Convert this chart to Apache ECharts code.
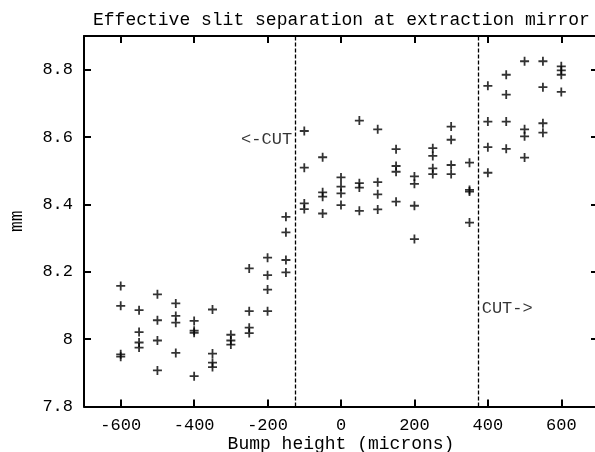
<!DOCTYPE html>
<html>
<head>
<meta charset="utf-8">
<script src="https://cdn.jsdelivr.net/npm/echarts@6/dist/echarts.min.js"></script>
<style>
html,body{margin:0;padding:0;background:#fff;}
#chart{width:595px;height:452px;}
</style>
</head>
<body>
<div id="chart"></div>
<script>
// ---- data ----
const titleText = 'Effective slit separation at extraction mirror';
const xName = 'Bump height (microns)';
const yName = 'mm';
const bumpX = [-600,-550,-500,-450,-400,-350,-300,-250,-200,-150,-100,-50,0,50,100,150,200,250,300,350,400,450,500,550,600];
const sepMm = [
  [8.158, 8.099, 7.955, 7.948],
  [8.086, 8.021, 7.990, 7.975],
  [8.133, 8.056, 7.996, 7.907],
  [8.106, 8.069, 8.049, 7.959],
  [8.054, 8.025, 8.019, 7.890],
  [8.088, 7.957, 7.930, 7.917],
  [8.013, 7.996, 7.984],
  [8.210, 8.083, 8.034, 8.018],
  [8.242, 8.190, 8.147, 8.083],
  [8.363, 8.317, 8.235, 8.198],
  [8.618, 8.509, 8.403, 8.386],
  [8.540, 8.436, 8.423, 8.373],
  [8.480, 8.453, 8.433, 8.398],
  [8.649, 8.463, 8.450, 8.381],
  [8.623, 8.466, 8.430, 8.385],
  [8.564, 8.514, 8.497, 8.408],
  [8.483, 8.461, 8.396, 8.297],
  [8.567, 8.544, 8.507, 8.490],
  [8.631, 8.592, 8.517, 8.490],
  [8.524, 8.443, 8.438, 8.346],
  [8.752, 8.646, 8.570, 8.494],
  [8.785, 8.726, 8.646, 8.565],
  [8.825, 8.623, 8.602, 8.539],
  [8.825, 8.748, 8.641, 8.613],
  [8.810, 8.798, 8.785, 8.734]
];
const cutLines = [-125, 375];
const cutLabels = [
  { text: '<-CUT', x: -125, y: 8.592, side: 'left' },
  { text: 'CUT->', x: 375, y: 8.091, side: 'right' }
];
const xRange = [-700, 700];
const yRange = [7.8, 8.9];
const yTickStep = 0.2;

// ---- build ----
const points = [];
bumpX.forEach((x, i) => sepMm[i].forEach(v => points.push([x, v])));

const FONT = 'Liberation Mono';
const plus = 'path://M4,0H6V4H10V6H6V10H4V6H0V4H4Z';

const axisBase = {
  axisLine: { show: true, onZero: false, lineStyle: { color: '#000', width: 2 } },
  axisTick: { show: true, inside: true, length: 7, lineStyle: { color: '#000', width: 2 } },
  splitLine: { show: false },
  axisLabel: { color: '#000', fontFamily: FONT, fontSize: 17, showMinLabel: false, showMaxLabel: false }
};

const chart = echarts.init(document.getElementById('chart'), null, { renderer: 'canvas' });
chart.setOption({
  animation: false,
  backgroundColor: '#fff',
  title: {
    text: titleText,
    left: 88, top: 6,
    textStyle: { fontFamily: FONT, fontSize: 18, fontWeight: 'normal', color: '#000' }
  },
  grid: { left: 84, right: -3, top: 36, bottom: 45.5, containLabel: false, outerBoundsMode: 'none' },
  xAxis: [
    Object.assign({}, axisBase, {
      type: 'value', position: 'bottom', min: xRange[0], max: xRange[1], splitNumber: 7,
      name: xName, nameLocation: 'middle', nameGap: 29, nameMoveOverlap: false,
      nameTextStyle: { fontFamily: FONT, fontSize: 18, color: '#000' },
      axisLabel: Object.assign({}, axisBase.axisLabel, { margin: 10 })
    }),
    Object.assign({}, axisBase, {
      type: 'value', position: 'top', min: xRange[0], max: xRange[1], splitNumber: 7,
      axisLabel: { show: false }
    })
  ],
  yAxis: [
    Object.assign({}, axisBase, {
      type: 'value', position: 'left', min: yRange[0], max: yRange[1], interval: yTickStep,
      name: yName, nameLocation: 'middle', nameGap: 58, nameMoveOverlap: false,
      nameTextStyle: { fontFamily: FONT, fontSize: 18, color: '#000' },
      axisLabel: Object.assign({}, axisBase.axisLabel, { margin: 11, showMinLabel: true,
        formatter: v => String(Math.round(v * 10) / 10) })
    }),
    Object.assign({}, axisBase, {
      type: 'value', position: 'right', min: yRange[0], max: yRange[1], interval: yTickStep,
      axisLabel: { show: false }
    })
  ],
  series: [
    {
      type: 'scatter',
      data: points,
      symbol: plus,
      symbolSize: 9,
      itemStyle: { color: '#000' },
      markLine: {
        silent: true,
        symbol: ['none', 'none'],
        label: { show: false },
        lineStyle: { color: '#000', width: 1.3, type: [4, 2] },
        data: cutLines.map(v => ({ xAxis: v }))
      }
    },
    {
      type: 'scatter',
      symbolSize: 0,
      data: cutLabels.map(c => ({
        value: [c.x, c.y],
        label: {
          show: true, position: c.side, distance: 3, formatter: c.text,
          fontFamily: FONT, fontSize: 17, color: '#000'
        }
      }))
    }
  ]
});
</script>
</body>
</html>
